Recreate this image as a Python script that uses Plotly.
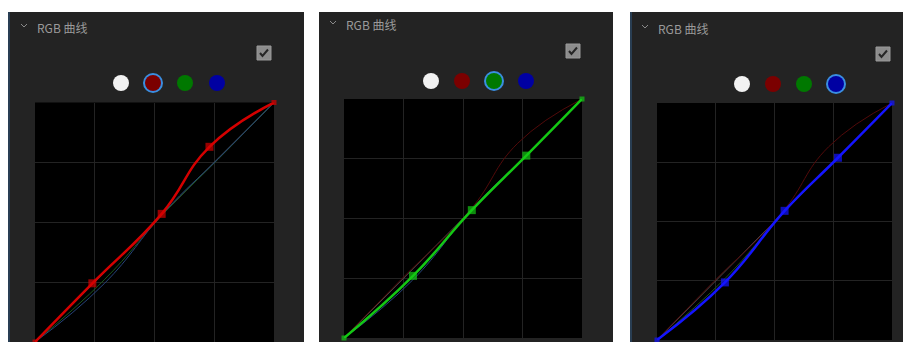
import plotly.graph_objects as go

W, H = 910, 342

# control points of each channel curve (input level, output level)
red_x = [0, 0.24, 0.53, 0.73, 1]
red_y = [0, 0.245, 0.535, 0.815, 1]
green_x = [0, 0.29, 0.537, 0.766, 1]
green_y = [0, 0.26, 0.535, 0.763, 1]
blue_x = [0, 0.289, 0.543, 0.77, 1]
blue_y = [0, 0.243, 0.545, 0.769, 1]
identity = [0, 1]

title_text = "RGB 曲线"
channels = ["red", "green", "blue"]
curves = {"red": (red_x, red_y), "green": (green_x, green_y), "blue": (blue_x, blue_y)}

active_col = {"red": "#d40000", "green": "#14c814", "blue": "#1414ff"}
dim_col = {"red": "#520a0a", "green": "#1c561c", "blue": "#26437a"}
swatch_col = ["#f2f2f2", "#7b0000", "#007800", "#0000a2"]


def fx(x):
    return x / W


def fy(y):
    return 1 - y / H


# pixel layout of the three screenshots
panels = [
    dict(left=8, right=304, top=12, border=True, plot=(35, 274, 102.5, 342),
         title=(24, 27), swatch_y=83, swatch_x=[121, 153, 185, 217], check=(264, 53)),
    dict(left=319, right=613, top=12, border=False, plot=(344, 582, 99, 338),
         title=(333, 24), swatch_y=81, swatch_x=[431, 462, 494, 526], check=(573, 51)),
    dict(left=630, right=903, top=12, border=True, plot=(657, 892, 103, 340),
         title=(645, 28), swatch_y=84, swatch_x=[742, 773, 804, 836], check=(883, 54)),
]

fig = go.Figure()
shapes = []
annotations = []

for i, (p, ch) in enumerate(zip(panels, channels)):
    n = "" if i == 0 else str(i + 1)
    x0, x1, y0, y1 = p["plot"]
    fig.update_layout(**{
        "xaxis" + n: dict(domain=[fx(x0), fx(x1)], range=[0, 1], dtick=0.25,
                          showgrid=True, gridcolor="#232323", gridwidth=1.2,
                          zeroline=False, showticklabels=False, fixedrange=True,
                          anchor="y" + n),
        "yaxis" + n: dict(domain=[fy(y1), fy(y0)], range=[0, 1], dtick=0.25,
                          showgrid=True, gridcolor="#232323", gridwidth=1.2,
                          zeroline=False, showticklabels=False, fixedrange=True,
                          anchor="x" + n),
    })
    xa, ya = "x" + n, "y" + n

    # background panel
    shapes.append(dict(type="rect", xref="paper", yref="paper", layer="below",
                       x0=fx(p["left"]), x1=fx(p["right"]), y0=0, y1=fy(p["top"]),
                       fillcolor="#232323", line=dict(width=0)))
    # black curve area
    shapes.append(dict(type="rect", xref="paper", yref="paper", layer="below",
                       x0=fx(x0), x1=fx(x1), y0=fy(y1), y1=fy(y0),
                       fillcolor="#000000", line=dict(width=0)))
    if p["border"]:
        shapes.append(dict(type="line", xref="paper", yref="paper",
                           x0=fx(p["left"] + 1), x1=fx(p["left"] + 1), y0=0, y1=fy(p["top"]),
                           line=dict(color="#2c4864", width=1.5)))

    # title with chevron
    tx, ty = p["title"]
    shapes.append(dict(type="path", xref="paper", yref="paper",
                       path=f"M {fx(tx - 3)},{fy(ty - 3)} L {fx(tx)},{fy(ty)} L {fx(tx + 3)},{fy(ty - 3)}",
                       line=dict(color="#8a8a8a", width=1)))
    annotations.append(dict(xref="paper", yref="paper", x=fx(tx + 11), y=fy(ty),
                            xanchor="left", yanchor="middle", showarrow=False,
                            text=title_text,
                            font=dict(family="Noto Sans CJK SC", size=12, color="#9a9a9a")))

    # checkbox
    cx, cy = p["check"]
    shapes.append(dict(type="rect", xref="paper", yref="paper",
                       x0=fx(cx - 7), x1=fx(cx + 7), y0=fy(cy + 7), y1=fy(cy - 7),
                       fillcolor="#8c8c8c", line=dict(color="#9a9a9a", width=1)))
    shapes.append(dict(type="path", xref="paper", yref="paper",
                       path=f"M {fx(cx - 4)},{fy(cy)} L {fx(cx - 1.5)},{fy(cy + 3)} L {fx(cx + 4)},{fy(cy - 3.5)}",
                       line=dict(color="#262626", width=2)))

    # channel swatches
    sy = p["swatch_y"]
    for k, sx in enumerate(p["swatch_x"]):
        if k == i + 1:
            shapes.append(dict(type="circle", xref="paper", yref="paper",
                               x0=fx(sx - 10), x1=fx(sx + 10), y0=fy(sy + 10), y1=fy(sy - 10),
                               fillcolor="#3a8ee0", line=dict(width=0)))
            shapes.append(dict(type="circle", xref="paper", yref="paper",
                               x0=fx(sx - 8), x1=fx(sx + 8), y0=fy(sy + 8), y1=fy(sy - 8),
                               fillcolor=swatch_col[k], line=dict(width=0)))
        else:
            shapes.append(dict(type="circle", xref="paper", yref="paper",
                               x0=fx(sx - 8), x1=fx(sx + 8), y0=fy(sy + 8), y1=fy(sy - 8),
                               fillcolor=swatch_col[k], line=dict(width=0)))

    # identity diagonal
    fig.add_trace(go.Scatter(x=identity, y=identity, xaxis=xa, yaxis=ya, mode="lines",
                             line=dict(color="#505050", width=1), hoverinfo="skip"))
    # inactive channel curves
    for other in channels:
        if other == ch:
            continue
        cxs, cys = curves[other]
        fig.add_trace(go.Scatter(x=cxs, y=cys, xaxis=xa, yaxis=ya, mode="lines",
                                 line=dict(color=dim_col[other], width=1, shape="spline",
                                           smoothing=1.3),
                                 hoverinfo="skip"))
    # active channel curve
    cxs, cys = curves[ch]
    fig.add_trace(go.Scatter(x=cxs, y=cys, xaxis=xa, yaxis=ya, mode="lines+markers",
                             line=dict(color=active_col[ch], width=2.5, shape="spline",
                                       smoothing=1.3),
                             marker=dict(symbol="square", color=active_col[ch],
                                         size=[5, 8, 8, 8, 5], line=dict(width=0)),
                             cliponaxis=False, hoverinfo="skip"))

fig.update_layout(width=W, height=H, margin=dict(l=0, r=0, t=0, b=0),
                  paper_bgcolor="white", plot_bgcolor="black", showlegend=False,
                  shapes=shapes, annotations=annotations)

fig.write_html("out.html", config={"displayModeBar": False},
               post_script="document.body.style.margin='0';")
